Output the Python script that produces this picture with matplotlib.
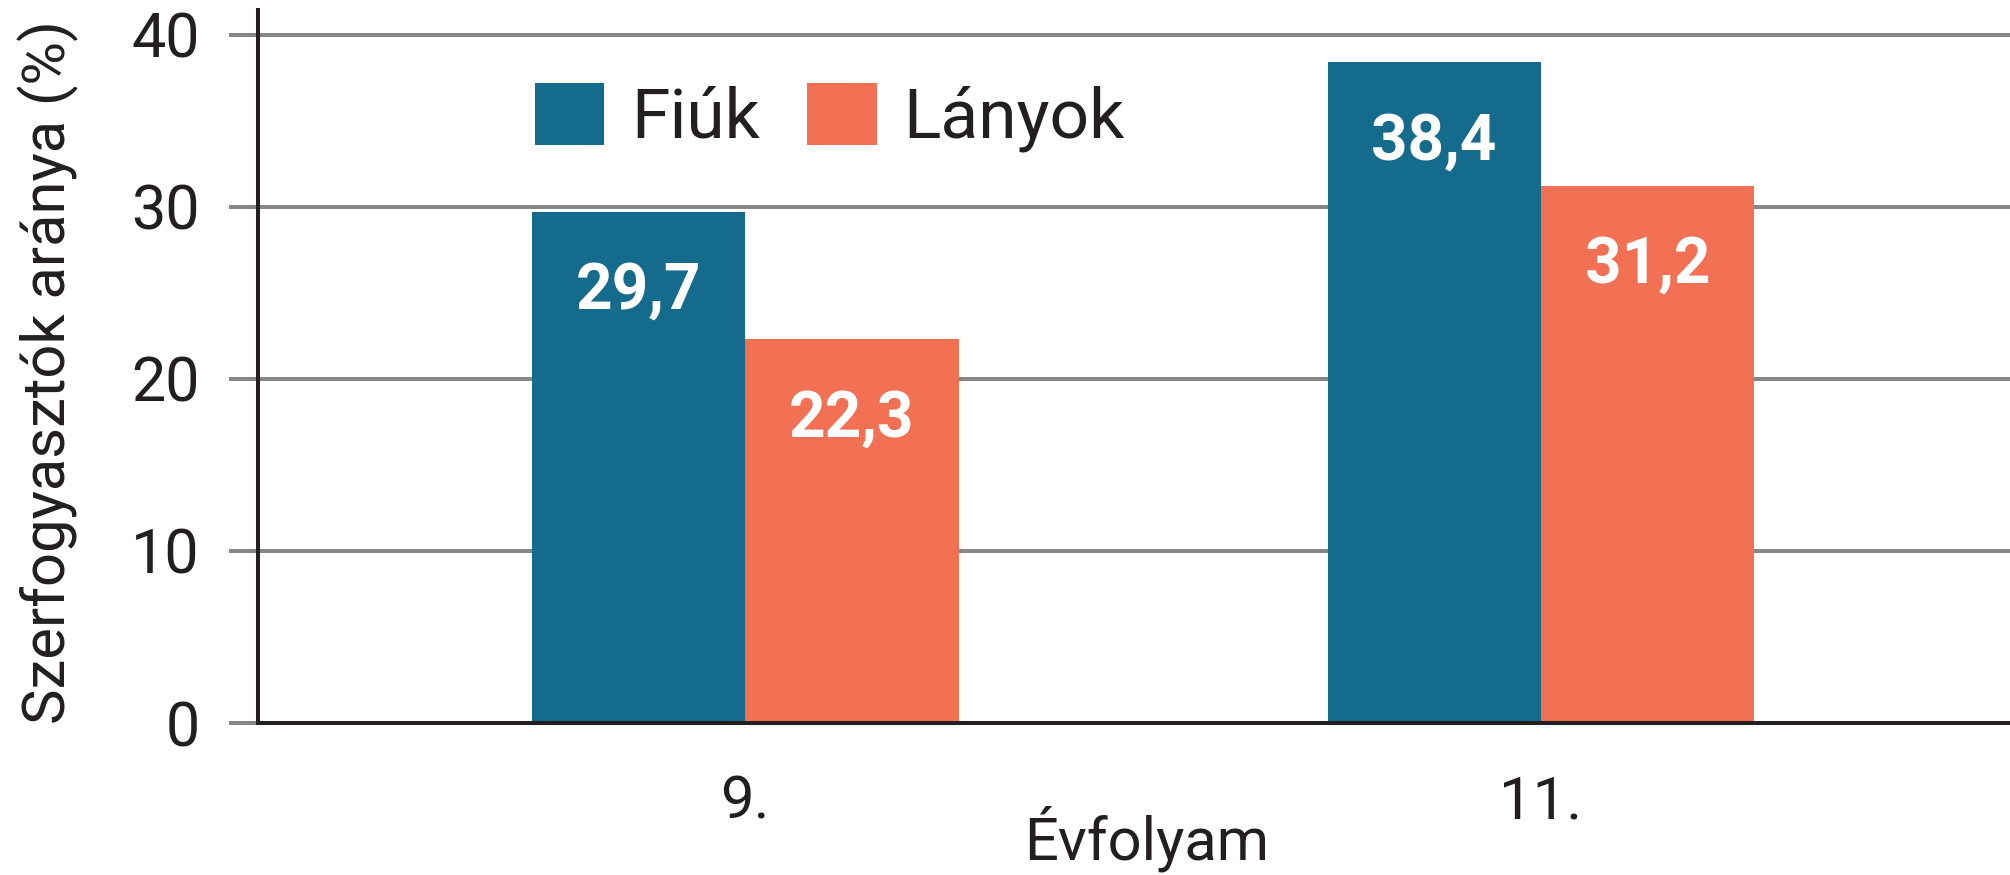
import matplotlib

matplotlib.use('Agg')
import matplotlib.pyplot as plt
import numpy as np

# adatok: szerfogyasztók aránya évfolyamonként és nemenként (%)
grades = ['9.', '11.']
series_names = ['Fiúk', 'Lányok']
boys = [29.7, 38.4]
girls = [22.3, 31.2]
yticks = [0, 10, 20, 30, 40]

BLUE = '#156B8C'
ORANGE = '#F27053'
INK = '#231F20'
GRID = '#878787'

plt.rcParams['font.family'] = ['Roboto', 'DejaVu Sans']


def hu(v):
    # magyar tizedesvessző
    return f'{v:.1f}'.replace('.', ',')


fig = plt.figure(figsize=(20.1, 8.75), dpi=100)
ax = fig.add_axes([0.1284, 0.1737, 0.8716, 0.8149])

x = np.arange(len(grades))
w = 0.268
bars_b = ax.bar(x - w / 2, boys, w, color=BLUE, label=series_names[0], linewidth=0)
bars_g = ax.bar(x + w / 2, girls, w, color=ORANGE, label=series_names[1], linewidth=0)

# értékfeliratok a hasábok tetején belül
for bars, vals in ((bars_b, boys), (bars_g, girls)):
    for rect, v in zip(bars, vals):
        ax.annotate(hu(v), xy=(rect.get_x() + rect.get_width() / 2, v),
                    xytext=(0, -57), textcoords='offset points',
                    ha='center', va='center', color='white',
                    fontsize=46, fontweight='bold')

ax.set_xlim(-0.6126, 1.590)
ax.set_ylim(0, 41.45)
ax.set_xticks(x)
ax.set_xticklabels(grades)
ax.set_yticks(yticks)

ax.yaxis.grid(True, color=GRID, linewidth=2.9)
ax.set_axisbelow(True)
for side in ('top', 'right'):
    ax.spines[side].set_visible(False)
for side in ('left', 'bottom'):
    ax.spines[side].set_color(INK)
    ax.spines[side].set_linewidth(2.9)

ax.tick_params(axis='y', length=21, width=2.9, color=GRID, pad=21,
               labelsize=44, labelcolor=INK)
ax.tick_params(axis='x', length=0, pad=36, labelsize=43, labelcolor=INK)

ax.set_ylabel('Szerfogyasztók aránya (%)', fontsize=43, color=INK)
ax.yaxis.set_label_coords(-0.102, 0.492)
ax.set_xlabel('Évfolyam', fontsize=43, color=INK)
ax.xaxis.set_label_coords(0.507, -0.115)

fig.legend(loc='upper left', bbox_to_anchor=(0.266, 0.905), ncol=2,
           frameon=False, borderpad=0, borderaxespad=0,
           handlelength=1.0, handleheight=1.0, handletextpad=0.39,
           columnspacing=0.68, prop={'size': 50}, labelcolor=INK)

fig.savefig('out.png', dpi=100)
plt.close(fig)
